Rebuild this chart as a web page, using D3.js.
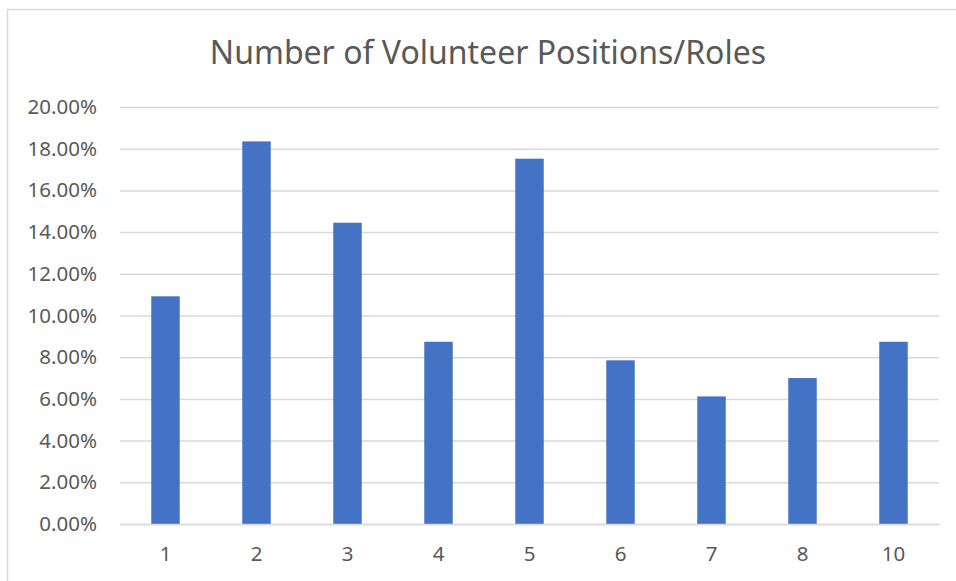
<!DOCTYPE html>
<html>
<head>
<meta charset="utf-8">
<script src="https://cdn.jsdelivr.net/npm/d3@7"></script>
<style>
  body { margin: 0; background: #fff; }
  svg { display: block; font-family: "Noto Sans", sans-serif; }
</style>
</head>
<body>
<svg width="956" height="581"></svg>
<script>
const categories = ['1', '2', '3', '4', '5', '6', '7', '8', '10'];
const shares = [0.1092, 0.1835, 0.1445, 0.0874, 0.1752, 0.0785, 0.0612, 0.0700, 0.0874];
const yTicks = [0, 0.02, 0.04, 0.06, 0.08, 0.10, 0.12, 0.14, 0.16, 0.18, 0.20];
const chartTitle = 'Number of Volunteer Positions/Roles';

const margin = { top: 107, right: 17, bottom: 57, left: 120 };
const width = 956 - margin.left - margin.right;
const height = 581 - margin.top - margin.bottom;

const svg = d3.select('svg');

// chart frame (only top and left edges show in the crop)
svg.append('path')
  .attr('d', 'M7.5,581 V9.5 H956')
  .attr('fill', 'none')
  .attr('stroke', '#d9d9d9')
  .attr('stroke-width', 1.5);

svg.append('text')
  .attr('x', 488)
  .attr('y', 64)
  .attr('text-anchor', 'middle')
  .attr('fill', '#595959')
  .attr('font-size', 32)
  .text(chartTitle);

const g = svg.append('g').attr('transform', `translate(${margin.left},${margin.top})`);

const x = d3.scaleBand()
  .domain(categories)
  .range([0, width])
  .paddingInner(0.687)
  .paddingOuter(0.3435);

const y = d3.scaleLinear()
  .domain([0, 0.2])
  .range([height, 0]);

const yAxis = d3.axisLeft(y)
  .tickValues(yTicks)
  .tickSize(-width)
  .tickPadding(23)
  .tickFormat(d3.format('.2%'));

g.append('g')
  .attr('class', 'y-axis')
  .call(yAxis)
  .call(a => a.select('.domain').remove())
  .call(a => a.selectAll('line').attr('stroke', '#d9d9d9').attr('stroke-width', 1.5))
  .call(a => a.selectAll('text')
    .attr('fill', '#595959')
    .attr('font-size', 20.5)
    .attr('font-family', '"Noto Sans", sans-serif'));

g.selectAll('.bar')
  .data(shares)
  .enter()
  .append('rect')
  .attr('class', 'bar')
  .attr('x', (d, i) => x(categories[i]))
  .attr('y', d => y(d))
  .attr('width', x.bandwidth())
  .attr('height', d => y(0) - y(d))
  .attr('fill', '#4472c4');

const xAxis = d3.axisBottom(x)
  .tickSize(0)
  .tickPadding(22);

g.append('g')
  .attr('class', 'x-axis')
  .attr('transform', `translate(0,${height})`)
  .call(xAxis)
  .call(a => a.select('.domain').attr('stroke', '#d9d9d9').attr('stroke-width', 1.5))
  .call(a => a.selectAll('text')
    .attr('fill', '#595959')
    .attr('font-size', 20.5)
    .attr('font-family', '"Noto Sans", sans-serif'));
</script>
</body>
</html>
